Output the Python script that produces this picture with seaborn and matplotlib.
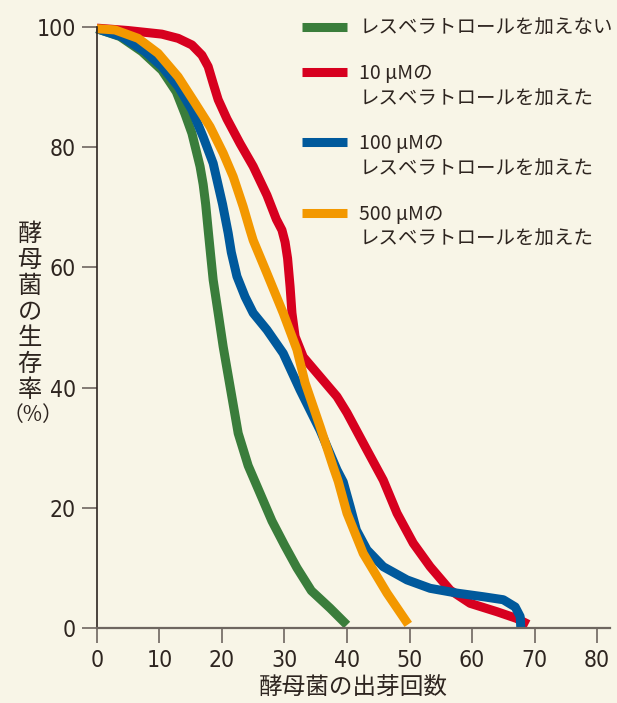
import pandas as pd
import matplotlib.pyplot as plt
import seaborn as sns
from matplotlib import font_manager as fm
from matplotlib.lines import Line2D

# 酵母菌の生存曲線
green_x = [0, 3.7, 7.2, 10.4, 12.7, 14.1, 15.2, 16.5, 17.0, 17.4, 17.8, 18.2, 18.6, 19.4, 20.2, 21.3, 22.6, 24.2, 26.1, 28, 30,
           32, 34.3, 37.3, 40]
green_y = [99.7, 98.4, 95.9, 92.8, 89.2, 85.5, 82.3, 76.8, 73.8, 70.5, 66.2, 62, 57.9, 52.4, 46.8, 40.2, 32.4, 27, 22.4, 17.8, 13.8,
           10, 6.2, 3.3, 0.5]

red_x = [0, 5, 10.4, 13, 15.2, 16.8, 17.8, 18.6, 19.4, 20.8, 22.9, 25, 27.2, 28.7, 29.6, 30.1, 30.5, 30.9, 31.2, 31.7, 33, 35.7,
         38.4, 40, 43.2, 45.8, 48, 50.6, 53.3, 56.5, 59.7, 64, 67.1, 69]
red_y = [99.8, 99.4, 98.8, 98.1, 97, 95.3, 93.4, 90.6, 87.9, 84.7, 80.6, 76.8, 72, 68, 66.2, 64.2, 61.5, 56.8, 52.4, 48.5, 45.1, 41.8,
         38.5, 35.8, 29.6, 24.6, 19.1, 14.1, 10.2, 6.3, 4.1, 2.7, 1.6, 0.6]

blue_x = [0, 3.95, 7.7, 10.4, 13, 15.2, 17, 18.6, 20.1, 21, 21.5, 22.4, 23.7, 25, 27.2, 29.8, 32.5, 35.7, 38.4, 39.4, 40.5, 41.5,
          43.2, 45.8, 49.6, 53.3, 57.6, 61.8, 65, 66.9, 67.7, 67.8]
blue_y = [99.7, 98.4, 95.9, 93.4, 90.1, 86.2, 81.7, 77.3, 70.5, 65.7, 62.5, 58.5, 55.1, 52.4, 49.6, 45.7, 39.6, 32.9, 26.3, 24.3, 20.2, 16.3,
          13, 10.2, 8, 6.6, 5.8, 5.2, 4.7, 3.5, 1.9, 0]

orange_x = [0, 2.9, 6.6, 9.8, 13, 15.6, 18.1, 20.2, 21.8, 23.4, 24.5, 25, 27.2, 29.8, 32, 33.3, 35.7, 37.8, 38.6, 40, 42.6,
            46.4, 49.8]
orange_y = [99.7, 99.5, 98.1, 95.6, 91.7, 87.5, 83.4, 79, 75.1, 70.1, 66.2, 64.5, 59, 52.4, 46.3, 40.8, 33.5, 26.8, 24.4, 19.1, 12.4,
            5.8, 0.6]

labels = ["レスベラトロールを加えない", "10 μMの", "100 μMの", "500 μMの"]
line2 = "レスベラトロールを加えた"
colors = ["#3a7d3b", "#d7001f", "#00599c", "#f39800"]

frames = []
for lab, xs, ys in zip(labels, [green_x, red_x, blue_x, orange_x], [green_y, red_y, blue_y, orange_y]):
    frames.append(pd.DataFrame({"n": xs, "surv": ys, "group": lab}))
df = pd.concat(frames, ignore_index=True)

bg = "#f8f5e7"
ink = "#2e2520"

# narrow font for the numbers, if one is installed
narrow = None
for f in fm.fontManager.ttflist:
    fn = f.fname.lower()
    if ("narrow" in fn or "condensed" in fn) and not any(k in fn for k in ("bold", "italic", "oblique")):
        narrow = f.fname
        break

sns.set_style("ticks")
plt.rcParams["font.family"] = ["Noto Sans CJK JP", "DejaVu Sans"]

fig = plt.figure(figsize=(6.17, 7.03), dpi=100, facecolor=bg)
ax = fig.add_axes([0.157, 0.1067, 0.831, 0.855])
ax.set_facecolor(bg)

sns.lineplot(data=df, x="n", y="surv", hue="group", palette=dict(zip(labels, colors)),
             sort=False, estimator=None, linewidth=6.5, legend=False, ax=ax)
for ln in ax.lines:
    ln.set_clip_on(False)
    ln.set_solid_capstyle("butt")
    ln.set_solid_joinstyle("round")

ax.set_xlim(0, 82)
ax.set_ylim(0, 100)
ax.set_xticks(range(0, 81, 10))
ax.set_yticks(range(0, 101, 20))
sns.despine(ax=ax)
ax.spines["left"].set_bounds(0, 100)
ax.spines["left"].set_color(ink)
ax.spines["bottom"].set_color("#6e6660")
ax.spines["left"].set_linewidth(1.2)
ax.spines["bottom"].set_linewidth(1.6)
ax.tick_params(axis="both", length=11, width=1.2, color="#6e6660", pad=4, labelsize=16, labelcolor=ink)
if narrow:
    for t in ax.get_xticklabels() + ax.get_yticklabels():
        t.set_fontproperties(fm.FontProperties(fname=narrow, size=16.5))

ax.set_xlabel("酵母菌の出芽回数", fontsize=17, color=ink, labelpad=3)
ax.set_ylabel("酵\n母\n菌\nの\n生\n存\n率", rotation=0, fontsize=17.5, color=ink,
              ha="center", va="center", linespacing=1.0)
ax.yaxis.set_label_coords(-0.131, 0.526)
ax.text(-0.125, 0.354, "（%）", transform=ax.transAxes, ha="center", va="center",
        fontsize=15, color=ink)

# legend: handle sits on the first line of each label, blank rows between entries
blank = Line2D([], [], color="none")
handles = [Line2D([], [], color=c, linewidth=6.5, solid_capstyle="butt") for c in colors]
leg_h = [handles[0], blank, handles[1], blank, blank, handles[2], blank, blank, handles[3], blank]
leg_l = [labels[0], "", labels[1], line2, "", labels[2], line2, "", labels[3], line2]
leg = ax.legend(leg_h, leg_l, loc="upper left", bbox_to_anchor=(302 / 617, 1 - 18 / 703),
                bbox_transform=fig.transFigure, frameon=False, fontsize=14, handlelength=2.3,
                handleheight=0.85, handletextpad=0.65, borderpad=0, borderaxespad=0, labelspacing=0.22)
for t in leg.get_texts():
    t.set_color(ink)
    if t.get_text() == "":
        t.set_fontsize(1)

fig.savefig("out.png", dpi=100, facecolor=bg)
